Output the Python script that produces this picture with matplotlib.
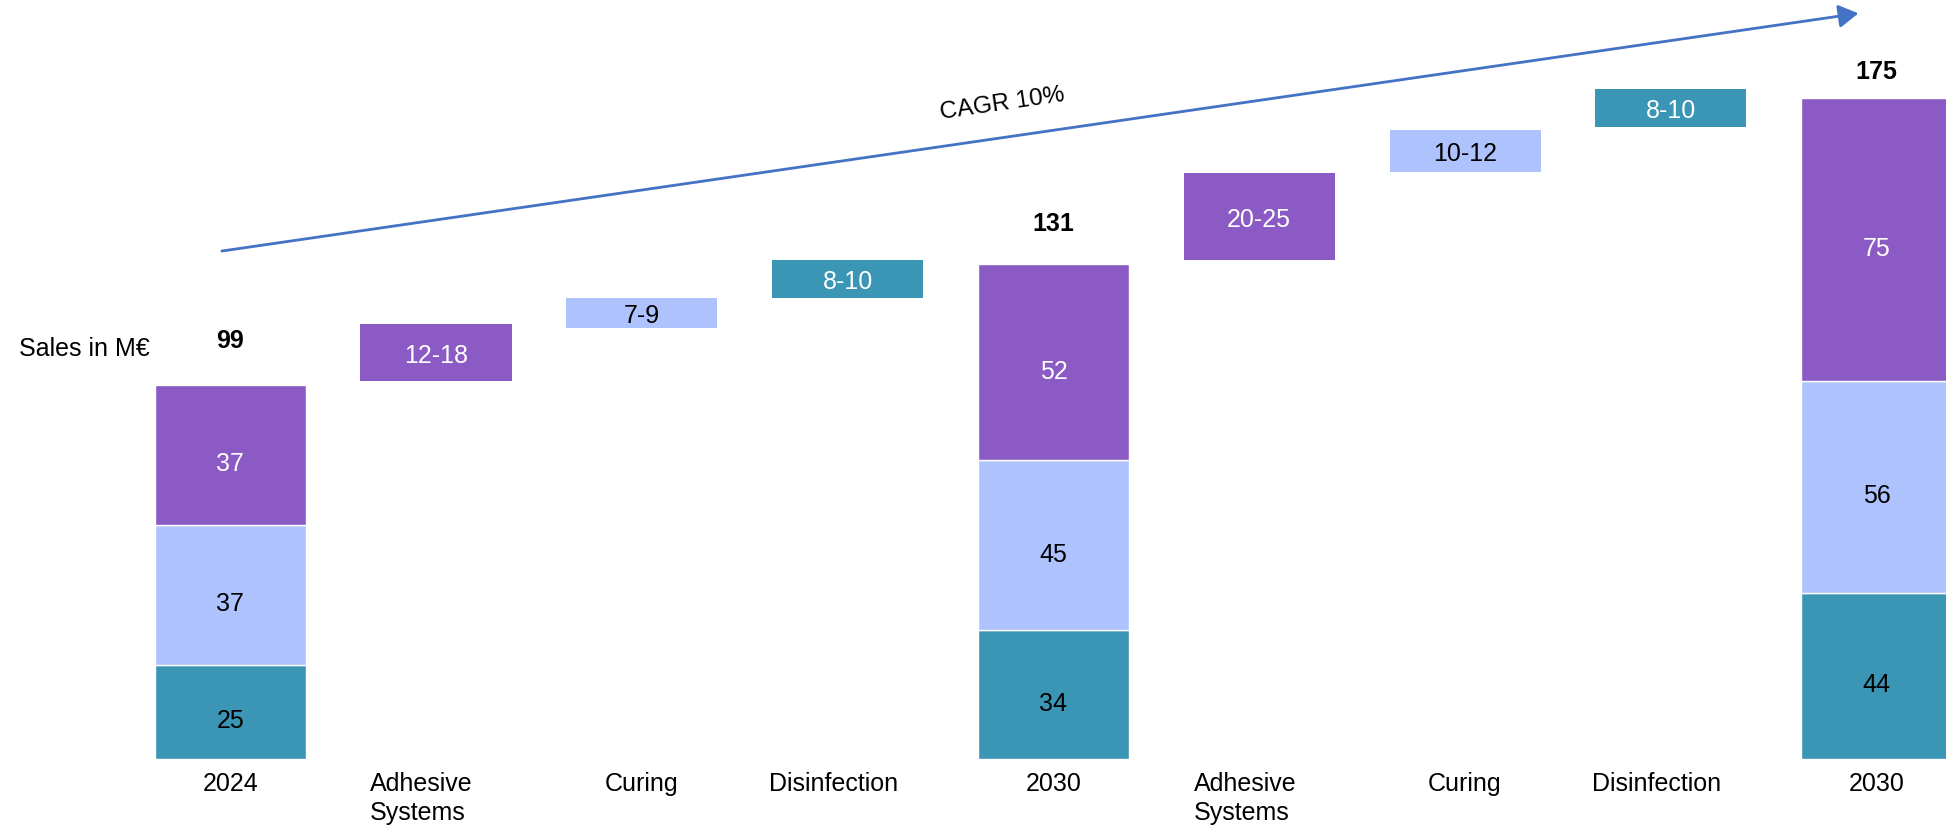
import numpy as np
import matplotlib.pyplot as plt

plt.rcParams['font.family'] = ['Liberation Sans', 'DejaVu Sans']

# categories along the bridge
categories = ['2024', 'Adhesive\nSystems', 'Curing', 'Disinfection', '2030',
              'Adhesive\nSystems', 'Curing', 'Disinfection', '2030']

# stacked totals (M€) for 2024, 2030, 2030
teal_vals = [25, 34, 44]
light_vals = [37, 45, 56]
purple_vals = [37, 52, 75]
totals = [99, 131, 175]

# growth drivers: range label plus floating bar extent
driver_labels = ['12-18', '7-9', '8-10', '20-25', '10-12', '8-10']
driver_low = [100, 114, 122, 132, 155.3, 167.2]
driver_high = [115, 122, 132, 155, 166.4, 177.2]

PURPLE = '#8B5AC4'
LIGHT = '#AEC3FE'
TEAL = '#3B95B5'
ARROW = '#4472C4'

stack_idx = [0, 4, 8]
driver_idx = [1, 2, 3, 5, 6, 7]
driver_colors = [PURPLE, LIGHT, TEAL] * 2
driver_txt = ['white', 'black', 'white'] * 2

fig = plt.figure(figsize=(19.46, 8.34), dpi=100)
ax = fig.add_axes([0, 0, 1, 1])
px = 3.78  # pixels per M€
ax.set_xlim(-1.1186, 8.337)
ax.set_ylim(-75 / px, 759 / px)
ax.axis('off')

w = 0.734
fs = 18
drop = 2.5  # segment labels sit a bit below the middle

# stacked columns
teal = np.array(teal_vals)
light = np.array(light_vals)
purple = np.array(purple_vals)
ax.bar(stack_idx, teal, w, color=TEAL, edgecolor='white', lw=1)
ax.bar(stack_idx, light, w, bottom=teal, color=LIGHT, edgecolor='white', lw=1)
ax.bar(stack_idx, purple, w, bottom=teal + light, color=PURPLE, edgecolor='white', lw=1)

for i, x in enumerate(stack_idx):
    ax.text(x, teal[i] / 2 - drop, str(teal[i]), ha='center', va='center',
            fontsize=fs, color='black')
    ax.text(x, teal[i] + light[i] / 2 - drop, str(light[i]), ha='center', va='center',
            fontsize=fs, color='black')
    ax.text(x, teal[i] + light[i] + purple[i] / 2 - drop, str(purple[i]), ha='center',
            va='center', fontsize=fs, color='white')

# totals above the columns
total_pad = [44, 40, 26]
for i, x in enumerate(stack_idx):
    top = teal[i] + light[i] + purple[i]
    ax.text(x, top + total_pad[i] / px, str(totals[i]), ha='center', va='center',
            fontsize=fs, fontweight='bold')

# floating driver bars
low = np.array(driver_low)
high = np.array(driver_high)
ax.bar(driver_idx, high - low, w, bottom=low, color=driver_colors)
for j, x in enumerate(driver_idx):
    ax.text(x, (low[j] + high[j]) / 2 - 0.8, driver_labels[j], ha='center', va='center',
            fontsize=fs, color=driver_txt[j])

# category labels under the bars
for i, lab in enumerate(categories):
    nudge = -0.07 if len(lab) > 6 else 0
    ax.text(i + nudge, -3.5, lab, ha='center', va='top', multialignment='left',
            fontsize=fs, linespacing=1.25)

ax.text(0.0098, 1 - 349 / 834, 'Sales in M€', transform=ax.transAxes,
        ha='left', va='center', fontsize=fs)

# CAGR arrow
ax.annotate('', xy=(0.955, 0.984), xytext=(0.114, 0.699),
            xycoords='axes fraction', textcoords='axes fraction',
            arrowprops=dict(arrowstyle='-|>,head_length=0.6,head_width=0.35',
                            mutation_scale=20, color=ARROW, lw=2,
                            shrinkA=0, shrinkB=0))
ax.text(0.5149, 0.8753, 'CAGR 10%', transform=ax.transAxes, rotation=8.3,
        rotation_mode='anchor', ha='center', va='center', fontsize=17.5)

fig.savefig('out.png', dpi=100)
